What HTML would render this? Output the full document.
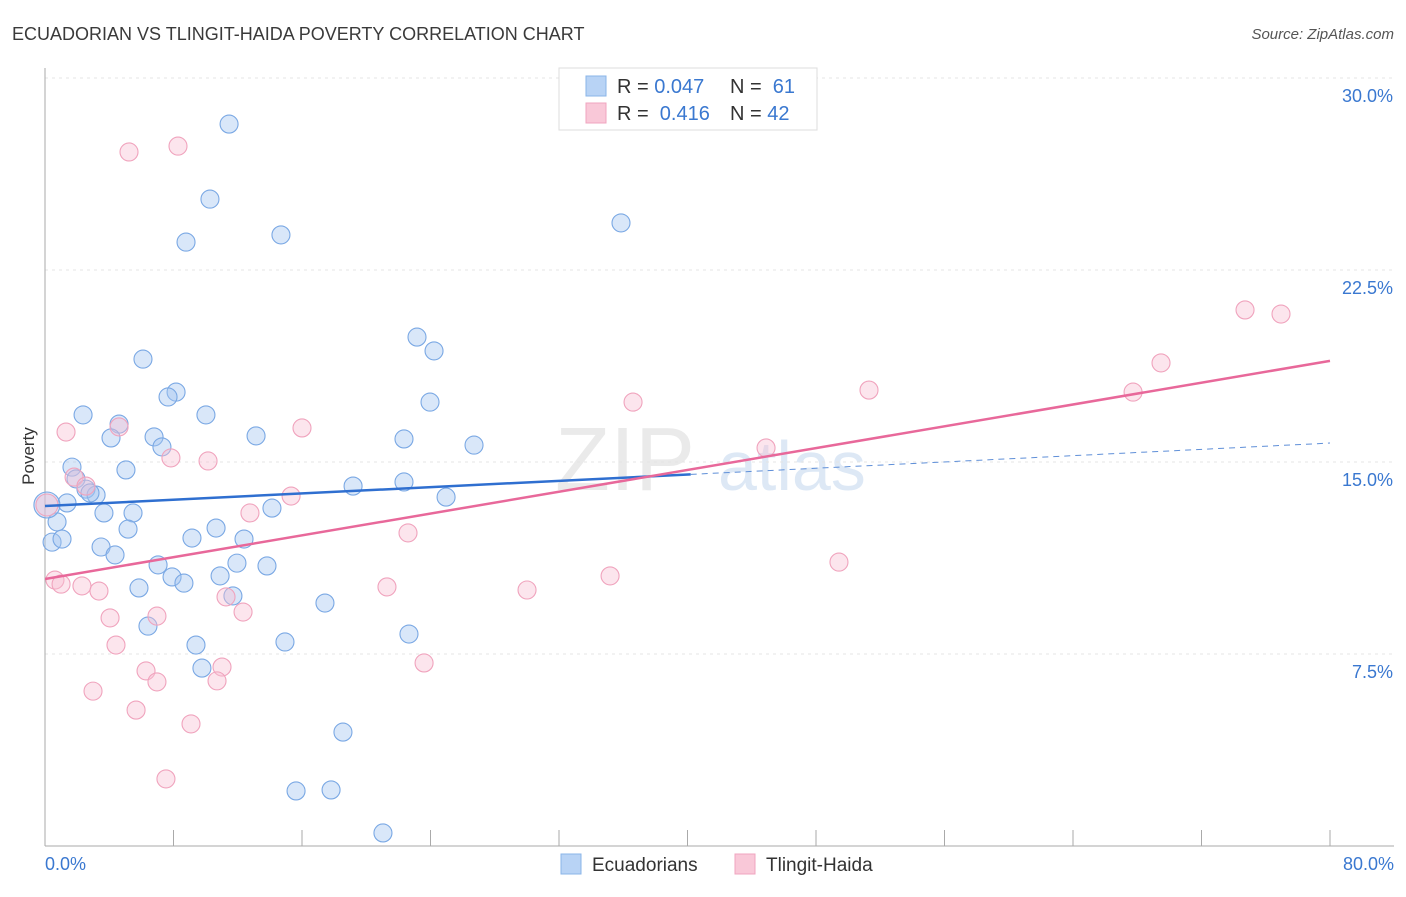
<!DOCTYPE html>
<html><head><meta charset="utf-8">
<style>
body{margin:0;background:#fff;font-family:"Liberation Sans",sans-serif;}
svg text{font-family:"Liberation Sans",sans-serif;}
</style></head>
<body>
<svg id="chart" width="1406" height="892" xmlns="http://www.w3.org/2000/svg">
<text x="12" y="40" font-size="18" fill="#3a3a3a">ECUADORIAN VS TLINGIT-HAIDA POVERTY CORRELATION CHART</text>
<text x="1394" y="39" font-size="15" fill="#555" font-style="italic" text-anchor="end">Source: ZipAtlas.com</text>
<text x="34" y="456" font-size="17" fill="#333" transform="rotate(-90 34 456)" text-anchor="middle">Poverty</text>
<g>
<text x="555" y="490" font-size="90" fill="#ddd" font-family="Liberation Serif" opacity="0.6">ZIP</text>
<text x="718" y="490" font-size="70" fill="#c8daf0" opacity="0.6">atlas</text>
</g>
<g id="grid"></g>
<g id="axes"></g>
<g id="points"></g>
<g id="trends"></g>
<g>
<rect x="559" y="68" width="258" height="62" fill="#fff" stroke="#ddd"/>
<rect x="586" y="76" width="20" height="20" fill="#b8d3f5" stroke="#8ab4e8"/>
<rect x="586" y="103" width="20" height="20" fill="#f9c8d8" stroke="#f0a5bf"/>
<text x="617" y="93" font-size="20" fill="#333">R = <tspan fill="#3a78d0">0.047</tspan></text>
<text x="730" y="93" font-size="20" fill="#333">N = <tspan fill="#3a78d0">&#160;61</tspan></text>
<text x="617" y="120" font-size="20" fill="#333">R = <tspan fill="#3a78d0">&#160;0.416</tspan></text>
<text x="730" y="120" font-size="20" fill="#333">N = <tspan fill="#3a78d0">42</tspan></text>
</g>
<g>
<rect x="561" y="854" width="20" height="20" fill="#b8d3f5" stroke="#8ab4e8"/>
<text x="592" y="871" font-size="19" fill="#333">Ecuadorians</text>
<rect x="735" y="854" width="20" height="20" fill="#f9c8d8" stroke="#f0a5bf"/>
<text x="766" y="871" font-size="19" fill="#333">Tlingit-Haida</text>
</g>
</svg>
<script>
const yTicks=[7.5,15,22.5,30];
const yTickLabels=["7.5%","15.0%","22.5%","30.0%"];
const xTickLabels=["0.0%","80.0%"];
const blueX=[11.46,10.27,8.78,14.69,35.86,6.10,23.16,24.22,8.16,7.66,23.97,2.37,10.02,4.61,4.11,6.79,13.14,22.35,7.28,26.71,1.68,5.04,1.93,2.55,3.18,19.18,22.35,24.97,1.37,0.75,0.44,1.06,3.67,5.48,14.13,5.17,10.65,3.49,9.15,12.39,4.36,7.04,11.95,13.82,7.91,8.65,10.90,5.85,11.70,17.43,6.41,22.66,9.40,14.94,9.77,18.55,15.63,17.81,21.04,0.12,2.80];
const blueY=[28.20,25.27,23.59,23.87,24.34,19.02,19.88,19.34,17.73,17.54,17.34,16.84,16.84,16.48,15.94,15.98,16.02,15.90,15.59,15.66,14.80,14.69,14.34,13.94,13.71,14.06,14.22,13.63,13.40,12.66,11.87,11.99,13.01,13.01,13.20,12.38,12.42,11.68,12.03,11.99,11.37,10.98,11.05,10.94,10.51,10.27,10.55,10.08,9.77,9.49,8.59,8.28,7.85,7.97,6.95,4.45,2.15,2.19,0.51,13.32,13.79];
const pinkX=[5.23,8.28,1.31,4.61,7.84,10.15,16.00,1.81,2.55,15.32,12.76,22.60,36.61,51.30,44.89,67.74,69.48,74.71,76.95,0.62,1.00,2.30,3.36,21.29,30.01,35.18,49.43,4.05,6.97,12.33,11.27,4.42,6.29,6.97,11.02,10.71,2.99,5.67,9.09,7.53,23.60,0.12];
const pinkY=[27.11,27.34,16.17,16.37,15.16,15.04,16.33,14.41,14.06,13.67,13.01,12.23,17.34,17.81,15.55,17.73,18.87,20.94,20.78,10.39,10.23,10.16,9.96,10.12,10.00,10.55,11.09,8.91,8.98,9.14,9.73,7.85,6.84,6.41,6.99,6.45,6.05,5.31,4.77,2.62,7.15,13.32];
const blueTrend=[13.28,15.74]; const blueSolidEnd=40.2;
const pinkTrend=[10.43,18.95];
const X0=45,X1=1330,XMAX=80,Y0=846,YPER=25.6;
const xs=v=>X0+(v/XMAX)*(X1-X0);
const ys=v=>Y0-v*YPER;
const NS="http://www.w3.org/2000/svg";
function mk(tag,attrs,parent){const e=document.createElementNS(NS,tag);for(const k in attrs)e.setAttribute(k,attrs[k]);parent.appendChild(e);return e;}
const grid=document.getElementById('grid'),axes=document.getElementById('axes');
yTicks.forEach((t,i)=>{
 const l=mk('line',{x1:X0,x2:1394,y1:ys(t),y2:ys(t),stroke:'#e4e4e4','stroke-dasharray':'3,4'},grid);
 
 
 const tx=mk('text',{x:1393,y:ys(t)+24,'font-size':18,fill:'#3a78d0','text-anchor':'end'},axes);
 tx.textContent=yTickLabels[i];
 
 
});
let a=mk('line',{x1:X0,x2:X0,y1:68,y2:846,stroke:'#aaa'},axes);


a=mk('line',{x1:X0,x2:1394,y1:846,y2:846,stroke:'#aaa'},axes);


for(let i=0;i<=10;i++){const v=i*8;const t=mk('line',{x1:xs(v),x2:xs(v),y1:830,y2:846,stroke:'#aaa'},axes);
 
 }
[[0,'start',45],[80,'end',1394]].forEach((d,i)=>{const t=mk('text',{x:d[2],y:870,'font-size':18,fill:'#3a78d0','text-anchor':d[1]},axes);t.textContent=xTickLabels[i];
 
 });
const pts=document.getElementById('points');
blueX.forEach((x,i)=>{const r=(i===blueX.length-2)?13:9;const c=mk('circle',{cx:xs(x),cy:ys(blueY[i]),r:r,fill:'rgba(160,196,240,0.4)',stroke:'#7aa8e4','stroke-width':1.1},pts);
 
 });
pinkX.forEach((x,i)=>{const c=mk('circle',{cx:xs(x),cy:ys(pinkY[i]),r:(i===pinkX.length-1)?11:9,fill:'rgba(248,190,210,0.4)',stroke:'#f0a3bd','stroke-width':1.1},pts);
 
 });
const tr=document.getElementById('trends');
const bAt=v=>blueTrend[0]+(blueTrend[1]-blueTrend[0])*v/XMAX;
let l=mk('line',{x1:xs(0),y1:ys(bAt(0)),x2:xs(blueSolidEnd),y2:ys(bAt(blueSolidEnd)),stroke:'#2f6fd0','stroke-width':2.5},tr);


l=mk('line',{x1:xs(blueSolidEnd),y1:ys(bAt(blueSolidEnd)),x2:xs(80),y2:ys(bAt(80)),stroke:'#5f8fd8','stroke-width':1,'stroke-dasharray':'6,5'},tr);


l=mk('line',{x1:xs(0),y1:ys(pinkTrend[0]),x2:xs(80),y2:ys(pinkTrend[1]),stroke:'#e8689a','stroke-width':2.5},tr);


</script>
</body></html>
